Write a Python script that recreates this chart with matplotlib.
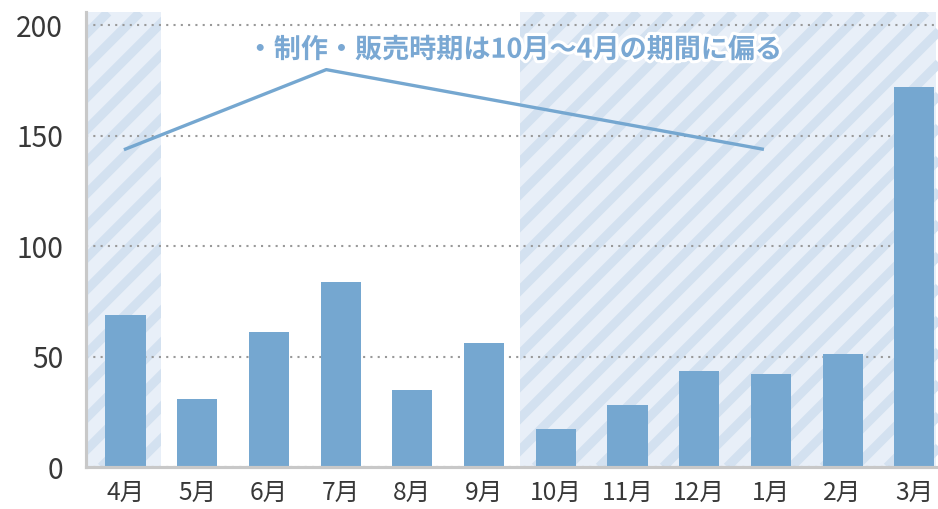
import matplotlib
matplotlib.use('Agg')
import numpy as np
import matplotlib.pyplot as plt
import matplotlib.patheffects as pe
from matplotlib.patches import Rectangle
from matplotlib.collections import LineCollection

plt.rcParams['font.family'] = ['Noto Sans CJK JP', 'DejaVu Sans']

# データ
months = ['4月', '5月', '6月', '7月', '8月', '9月', '10月', '11月', '12月', '1月', '2月', '3月']
values = [69, 31, 61, 84, 35, 56, 17, 28, 43.5, 42, 51, 172]

# 注釈の折れ線
line_x = [0, 2.8, 8.88]
line_y = [144, 180, 144]
note = '・制作・販売時期は10月～4月の期間に偏る'

# 網掛け期間 (開始, 終了)
shade_spans = [(-0.55, 0.5), (5.5, 11.4)]

BAR = '#75a7d0'
DPI = 150
fig = plt.figure(figsize=(938/DPI, 509/DPI), dpi=DPI)
ax = fig.add_axes([0.0917, 0.0825, 0.906, 0.8935])
ax.set_xlim(-0.55, 11.3)
ax.set_ylim(0, 206)

# 斜線の網掛け（ピクセル座標で45度、間隔32px）
for x0, x1 in shade_spans:
    rect = Rectangle((x0, 0), x1 - x0, 206, facecolor='#e8eff8',
                     linewidth=0, zorder=0)
    ax.add_patch(rect)
    (px0, py0), (px1, py1) = ax.transData.transform([(x0, 0), (x1, 206)])
    h = py1 - py0
    segs = []
    for sx in np.arange(px0 - h - 10, px1 + 10, 32):
        segs.append([(sx, py0), (sx + h, py1)])
    lc = LineCollection(segs, colors='#d3e1f0', linewidths=4.4,
                        transform=None, zorder=0.5)
    ax.add_collection(lc)
    lc.set_clip_path(rect)

ax.bar(range(len(months)), values, width=0.56, color=BAR, zorder=3)
ax.plot(line_x, line_y, color=BAR, lw=1.6, zorder=4)
ax.text(5.43, 189, note, ha='center', va='center', fontsize=13, fontweight='bold',
        color='#7aa8d3', zorder=5,
        path_effects=[pe.withStroke(linewidth=3, foreground='white')])

ax.set_yticks([0, 50, 100, 150, 200])
ax.set_xticks(range(len(months)))
ax.set_xticklabels(months)
ax.yaxis.grid(True, linestyle=(0, (1, 2.5)), color='#999999', lw=1, zorder=1)
ax.set_axisbelow(True)
ax.tick_params(length=0, colors='#383838')
ax.tick_params(axis='y', labelsize=13.5, pad=11)
ax.tick_params(axis='x', labelsize=11.8, pad=6)
for s in ['top', 'right']:
    ax.spines[s].set_visible(False)
for s in ['left', 'bottom']:
    ax.spines[s].set_color('#c8c8c8')
    ax.spines[s].set_linewidth(1.5)
    ax.spines[s].set_zorder(6)

plt.savefig('out.png', dpi=DPI)
